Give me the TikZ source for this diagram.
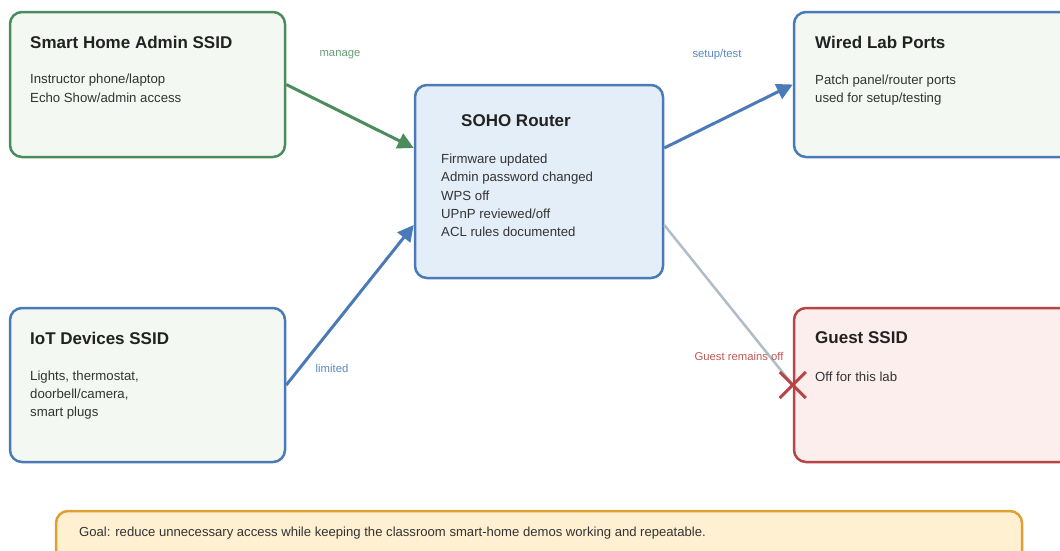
\documentclass[tikz,border=0pt]{standalone}
\usepackage{fontspec}
\setmainfont{Liberation Sans}
\usepackage{xcolor}
\usepackage{tikz}
\usetikzlibrary{arrows.meta,calc}
\definecolor{verde}{RGB}{74,140,92}
\definecolor{verdef}{RGB}{243,248,243}
\definecolor{azul}{RGB}{74,122,184}
\definecolor{azulf}{RGB}{228,238,248}
\definecolor{rojo}{RGB}{184,68,68}
\definecolor{rojof}{RGB}{253,238,238}
\definecolor{naranja}{RGB}{222,160,50}
\definecolor{naranjaf}{RGB}{255,240,210}
\definecolor{gris}{RGB}{176,188,200}
\definecolor{tinta}{RGB}{34,34,34}
\definecolor{tintab}{RGB}{51,51,51}
\tikzset{
  caja/.style = {draw, line width=2.5pt, rounded corners=12pt, inner sep=0pt},
  titulo/.style = {anchor=west, inner sep=0pt, text=tinta,
    font=\fontsize{17}{20}\selectfont\bfseries},
  cuerpo/.style = {anchor=west, inner sep=0pt, text=tintab,
    font=\fontsize{13.2}{16}\selectfont},
  etiq/.style = {inner sep=0pt, font=\fontsize{11.3}{13}\selectfont},
  flecha/.style = {line width=3pt, -{Triangle[length=16pt,width=16pt]}}
}
\newcommand{\lineas}[4]{
  \foreach \t [count=\i] in {#4}{
    \node[cuerpo] (#1-\i) at (#2, #3+18*\i-18) {\t};
  }}

\begin{document}
\begin{tikzpicture}[x=1pt,y=-1pt]
  \useasboundingbox (0,0) rectangle (1060,550);
  \clip (0,0) rectangle (1060,550);
  % cajas
  \node[caja, draw=verde, fill=verdef, minimum width=275pt, minimum height=145pt] (admin) at (147.5,84.5) {};
  \node[caja, draw=azul, fill=azulf, minimum width=248pt, minimum height=193pt] (router) at (539,181.5) {};
  \node[caja, draw=azul, fill=verdef, minimum width=290pt, minimum height=145pt] (wired) at (939,84.5) {};
  \node[caja, draw=azul, fill=verdef, minimum width=275pt, minimum height=154pt] (iot) at (147.5,385) {};
  \node[caja, draw=rojo, fill=rojof, minimum width=290pt, minimum height=154pt] (guest) at (939,385) {};
  \node[caja, draw=naranja, fill=naranjaf, minimum width=966pt, minimum height=60pt] (goal) at (539,541) {};
  % textos
  \node[titulo] (admin-t) at (30,42) {Smart Home Admin SSID};
  \lineas{admin}{30}{80}{{Instructor phone/laptop},{Echo Show/admin access}}
  \node[titulo] (router-t) at (461,121) {SOHO Router};
  \lineas{router}{441}{160}{{Firmware updated},{Admin password changed},{WPS off},{UPnP reviewed/off},{ACL rules documented}}
  \node[titulo] (wired-t) at (815,42) {Wired Lab Ports};
  \lineas{wired}{815}{81}{{Patch panel/router ports},{used for setup/testing}}
  \node[titulo] (iot-t) at (30,338) {IoT Devices SSID};
  \lineas{iot}{30}{377}{{Lights, thermostat,},{doorbell/camera,},{smart plugs}}
  \node[titulo] (guest-t) at (815,338) {Guest SSID};
  \lineas{guest}{815}{377}{{Off for this lab}}
  \node[cuerpo, font=\fontsize{13.1}{15}\selectfont] (goal-t) at (79,533)
    {Goal: reduce unnecessary access while keeping the classroom smart-home demos working and repeatable.};
  % conexiones
  \draw[flecha, verde] (admin.east) -- ([yshift=33.5pt]router.west);
  \draw[flecha, azul] (iot.east) -- ([yshift=-43.5pt]router.west);
  \draw[flecha, azul] ([yshift=33.5pt]router.east) -- (wired.west);
  \draw[gris, line width=2.5pt] ([yshift=-43.5pt]router.east) -- (guest.west);
  \draw[rojo, line width=3pt] ([shift={(-13,-13)}]guest.west) -- ([shift={(13,13)}]guest.west);
  \draw[rojo, line width=3pt] ([shift={(-13,13)}]guest.west) -- ([shift={(13,-13)}]guest.west);
  \node[etiq, text=verde!85] (l-manage) at (340,55) {manage};
  \node[etiq, text=azul!90] (l-limited) at (332,368) {limited};
  \node[etiq, text=azul!90] (l-setup) at (717,55) {setup/test};
  \node[etiq, text=rojo!90] (l-guest) at (739,356) {Guest remains off};
\end{tikzpicture}
\end{document}
